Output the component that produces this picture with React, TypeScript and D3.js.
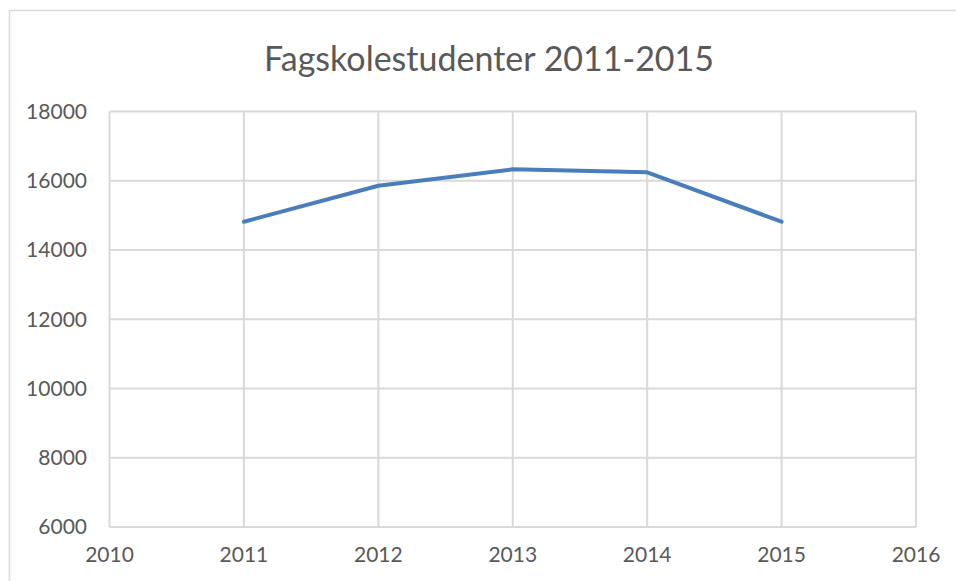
import { useRef, useEffect } from 'react';
import * as d3 from 'd3';

const YEARS = [2011, 2012, 2013, 2014, 2015];
const STUDENTS = [14817, 15857, 16330, 16244, 14817];
const X_TICKS = [2010, 2011, 2012, 2013, 2014, 2015, 2016];
const Y_TICKS = [6000, 8000, 10000, 12000, 14000, 16000, 18000];
const TITLE = 'Fagskolestudenter 2011-2015';

const W = 956;
const H = 581;

export default function App() {
  const svgRef = useRef<SVGSVGElement | null>(null);

  useEffect(() => {
    if (!svgRef.current) return;
    const svg = d3.select(svgRef.current);
    svg.selectAll('*').remove();

    const x = d3.scaleLinear().domain([2010, 2016]).range([109.5, 916]);
    const y = d3.scaleLinear().domain([6000, 18000]).range([527, 111.5]);

    // chart border
    svg.append('rect')
      .attr('x', 9.5).attr('y', 10.5)
      .attr('width', 960).attr('height', 600)
      .attr('fill', '#fff').attr('stroke', '#d9d9d9').attr('stroke-width', 1.5);

    svg.append('text')
      .attr('x', 489).attr('y', 71)
      .attr('text-anchor', 'middle')
      .attr('fill', '#595959')
      .attr('font-size', 34)
      .text(TITLE);

    const grid = svg.append('g').attr('stroke', '#d9d9d9').attr('stroke-width', 2);
    grid.selectAll('line.h').data(Y_TICKS).enter().append('line')
      .attr('x1', x(2010)).attr('x2', x(2016))
      .attr('y1', d => y(d)).attr('y2', d => y(d));
    grid.selectAll('line.v').data(X_TICKS).enter().append('line')
      .attr('x1', d => x(d)).attr('x2', d => x(d))
      .attr('y1', y(6000)).attr('y2', y(18000));

    svg.append('g').selectAll('text').data(Y_TICKS).enter().append('text')
      .attr('x', 87).attr('y', d => y(d))
      .attr('dy', '0.35em')
      .attr('text-anchor', 'end')
      .attr('fill', '#595959').attr('font-size', 21)
      .text(d => String(d));

    svg.append('g').selectAll('text').data(X_TICKS).enter().append('text')
      .attr('x', d => x(d)).attr('y', 562)
      .attr('text-anchor', 'middle')
      .attr('fill', '#595959').attr('font-size', 21)
      .text(d => String(d));

    const line = d3.line<number>()
      .x((_, i) => x(YEARS[i]))
      .y(d => y(d));

    svg.append('path')
      .datum(STUDENTS)
      .attr('d', line)
      .attr('fill', 'none')
      .attr('stroke', '#4a7ebb')
      .attr('stroke-width', 4)
      .attr('stroke-linejoin', 'round')
      .attr('stroke-linecap', 'round');
  }, []);

  return (
    <svg
      ref={svgRef}
      width={W}
      height={H}
      style={{ position: 'absolute', left: 0, top: 0, fontFamily: 'Lato, sans-serif', background: '#fff' }}
    />
  );
}
